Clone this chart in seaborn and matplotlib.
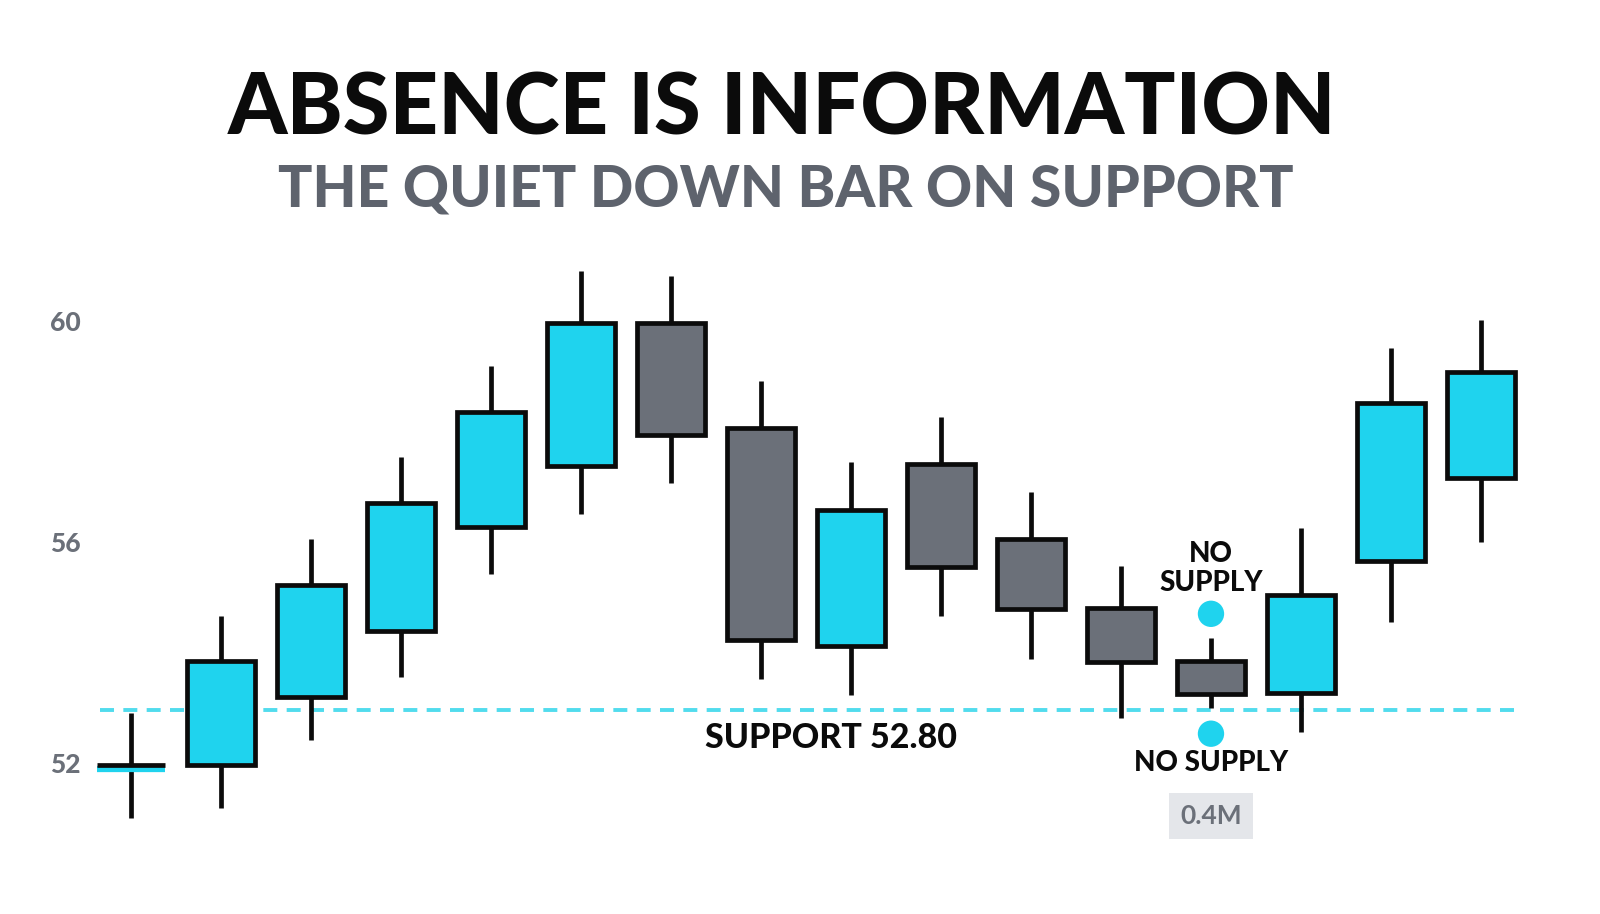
import numpy as np
import pandas as pd
import matplotlib
matplotlib.use("Agg")
import matplotlib.pyplot as plt
import seaborn as sns

# ---- data ----
opens  = [51.96, 51.96, 53.19, 54.39, 56.27, 57.38, 59.96, 58.06, 54.12, 57.41, 56.05, 54.81, 53.85, 53.27, 55.66, 57.16]
closes = [51.96, 53.85, 55.22, 56.71, 58.35, 59.96, 57.94, 54.23, 56.58, 55.55, 54.79, 53.83, 53.25, 55.04, 58.52, 59.08]
highs  = [52.90, 54.66, 56.05, 57.54, 59.19, 60.90, 60.81, 58.91, 57.45, 58.26, 56.90, 55.57, 54.26, 56.25, 59.51, 60.02]
lows   = [51.00, 51.19, 52.42, 53.56, 55.42, 56.51, 57.07, 53.52, 53.23, 54.66, 53.88, 52.81, 53.00, 52.56, 54.55, 56.00]
support_level = 52.96
support_label = "SUPPORT 52.80"
y_ticks = [52, 56, 60]
focus_bar = 12
focus_volume = "0.4M"

CYAN = "#1fd3ee"
GREY = "#6b7079"
DARK = "#0b0b0b"

df = pd.DataFrame({"open": opens, "close": closes, "high": highs, "low": lows})
df["idx"] = np.arange(len(df))
df["up"] = df["close"] >= df["open"]

sns.set_theme(style="white")
plt.rcParams["font.family"] = ["Lato", "DejaVu Sans"]

fig = plt.figure(figsize=(16, 9.14), dpi=100)
ax = fig.add_axes([92 / 1600, 54 / 914, 1468 / 1600, 610 / 914])

body_w = 0.75
lw = 3.4

# support line (behind candles)
ax.hlines(support_level, -0.344, 15.4, colors="#33d6ea", linestyles=(0, (3.6, 2.4)),
          linewidth=2.8, alpha=0.85, zorder=1)

# wicks
ax.vlines(df["idx"], df["low"], df["high"], colors=DARK, linewidth=lw, zorder=2)

# bodies
for _, r in df.iterrows():
    lo = min(r["open"], r["close"])
    h = abs(r["close"] - r["open"])
    if h < 1e-6:
        # doji: flat body
        ax.hlines(r["open"] - 0.06, r["idx"] - body_w / 2, r["idx"] + body_w / 2,
                  colors=CYAN, linewidth=4.5, zorder=2)
        ax.hlines(r["open"], r["idx"] - body_w / 2, r["idx"] + body_w / 2,
                  colors=DARK, linewidth=lw, zorder=3)
        continue
    ax.bar(r["idx"], h, bottom=lo, width=body_w,
           color=CYAN if r["up"] else GREY, edgecolor=DARK,
           linewidth=lw, zorder=3)

# no-supply markers
sns.scatterplot(x=[focus_bar, focus_bar], y=[54.70, 52.53], ax=ax, s=360,
                color=CYAN, edgecolor="none", zorder=4, legend=False)
ax.text(focus_bar, 55.52, "NO\nSUPPLY", ha="center", va="center",
        fontsize=20, fontweight="black", color=DARK, linespacing=1.12)
ax.text(focus_bar, 52.00, "NO SUPPLY", ha="center", va="center",
        fontsize=20, fontweight="black", color=DARK)
ax.text(focus_bar, 51.04, focus_volume, ha="center", va="center",
        fontsize=19, fontweight="bold", color=GREY,
        bbox=dict(boxstyle="square,pad=0.42", fc="#e4e6ea", ec="none"))

ax.text(7.78, 52.45, support_label, ha="center", va="center",
        fontsize=24.5, fontweight="black", color=DARK)

ax.set_xlim(-0.433, 15.878)
ax.set_ylim(50.244, 61.285)
ax.set_xticks([])
ax.set_yticks(y_ticks)
ax.set_yticklabels([str(t) for t in y_ticks], fontsize=19, fontweight="black", color=GREY)
ax.tick_params(axis="y", length=0, pad=8)
sns.despine(ax=ax, left=True, bottom=True)

fig.text(0.489, 1 - 110 / 914, "ABSENCE IS INFORMATION", ha="center", va="center",
         fontsize=61, fontweight="black", color=DARK)
fig.text(0.491, 1 - 190 / 914, "THE QUIET DOWN BAR ON SUPPORT", ha="center", va="center",
         fontsize=41, fontweight="black", color="#5e636d")

fig.savefig("out.png", dpi=100, facecolor="white")
